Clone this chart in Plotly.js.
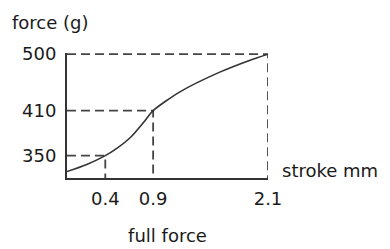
<!DOCTYPE html>
<html>
<head>
<meta charset="utf-8">
<script src="https://cdn.plot.ly/plotly-3.0.1.min.js"></script>
<style>html,body{margin:0;padding:0;background:#fff;}#chart{width:390px;height:249px;}</style>
</head>
<body>
<div id="chart"></div>
<script>
// curve
var stroke = [0, 0.2, 0.4, 0.52, 0.67, 0.81, 0.9, 1.18, 1.59, 1.92, 2.1];
var force = [331, 339, 350, 359, 374, 395, 410, 438, 469, 490, 500];
// marked points
var markStroke = [0.4, 0.9, 2.1];
var markForce = [350, 410, 500];
var xTickText = ['0.4', '0.9', '2.1'];
var yTickText = ['350', '410', '500'];

var yBottom = 323.6;
var yTop = 502;
var ink = '#333';
var txt = '#1a1a1a';
var font = '"DejaVu Sans", sans-serif';
var fs = 18;

var traces = [];
markStroke.forEach(function (sx, i) {
  traces.push({
    x: [0, sx, sx],
    y: [markForce[i], markForce[i], yBottom],
    mode: 'lines',
    line: {color: '#444', width: 1.8, dash: '9px,5px'},
    hoverinfo: 'skip',
    showlegend: false
  });
});
traces.push({
  x: stroke,
  y: force,
  mode: 'lines',
  line: {color: '#333', width: 1.6, shape: 'spline', smoothing: 0.7},
  showlegend: false
});

var layout = {
  width: 390, height: 249,
  margin: {l: 67, r: 122, t: 53, b: 71},
  paper_bgcolor: '#fff', plot_bgcolor: '#fff',
  font: {family: font, size: fs, color: txt},
  xaxis: {
    range: [0, 2.1],
    tickvals: markStroke, ticktext: xTickText,
    showgrid: false, zeroline: false,
    showline: true, linecolor: ink, linewidth: 2,
    ticks: '', ticklabelstandoff: 3,
    tickfont: {family: font, size: fs, color: txt},
    title: {text: 'full force', font: {family: font, size: fs, color: txt}, standoff: 22}
  },
  yaxis: {
    type: 'log',
    range: [Math.log10(yBottom), Math.log10(yTop)],
    tickvals: markForce, ticktext: yTickText,
    showgrid: false, zeroline: false,
    showline: true, linecolor: ink, linewidth: 2,
    ticks: '', ticklabelstandoff: 5,
    tickfont: {family: font, size: fs, color: txt}
  },
  annotations: [
    {text: 'force (g)', xref: 'paper', yref: 'paper', x: 0, y: 1, xanchor: 'left', yanchor: 'middle',
     xshift: -57, yshift: 31, showarrow: false, font: {family: font, size: fs, color: txt}},
    {text: 'stroke mm', xref: 'paper', yref: 'paper', x: 1, y: 0, xanchor: 'left', yanchor: 'middle',
     xshift: 12, yshift: 8, showarrow: false, font: {family: font, size: fs, color: txt}}
  ]
};

Plotly.newPlot('chart', traces, layout, {displayModeBar: false, staticPlot: true});
</script>
</body>
</html>
